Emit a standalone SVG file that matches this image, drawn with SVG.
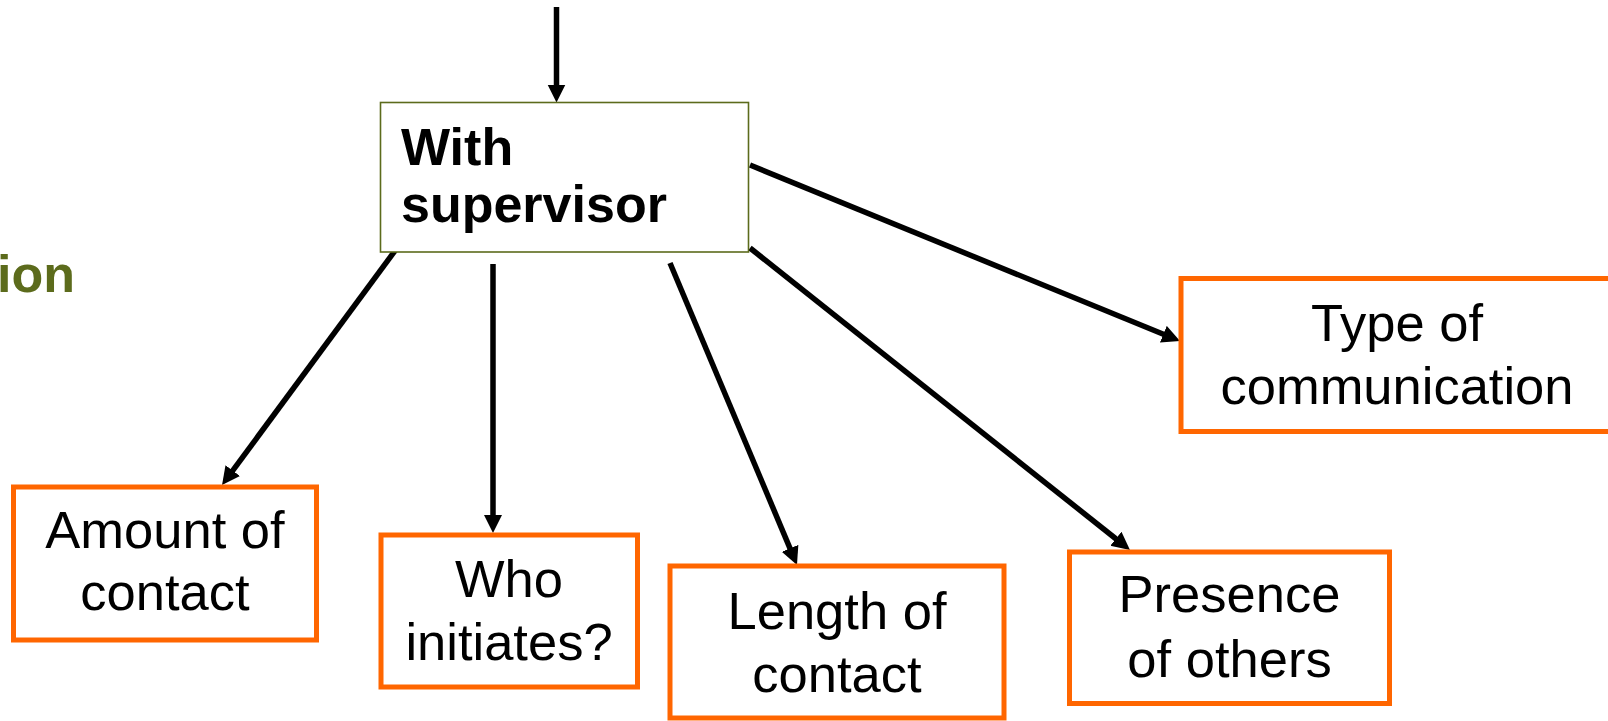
<svg xmlns="http://www.w3.org/2000/svg" width="1608" height="721" viewBox="0 0 1608 721">
  <style>
    .leaf { fill: #ffffff; stroke: #ff6600; stroke-width: 5; }
    .hub { fill: #ffffff; stroke: #5c6b1c; stroke-width: 1.6; }
    .label { font-family: "Liberation Sans", Arial, sans-serif; font-size: 52.5px; fill: #000000; text-anchor: middle; }
    .hub-label { font-family: "Liberation Sans", Arial, sans-serif; font-size: 52px; font-weight: bold; fill: #000000; }
    .side { font-family: "Liberation Sans", Arial, sans-serif; font-size: 52px; font-weight: bold; fill: #5c6b1c; text-anchor: end; }
    .link { stroke: #000000; stroke-width: 5.5; fill: none; marker-end: url(#arrow); }
  </style>
  <defs>
    <marker id="arrow" markerUnits="userSpaceOnUse" markerWidth="20" markerHeight="20" refX="10" refY="9" orient="auto">
      <path d="M0,0 L18,9 L0,18 z" fill="#000000"/>
    </marker>
  </defs>
  <rect width="1608" height="721" fill="#ffffff"/>

  <text class="side" x="75" y="292">ion</text>

  <g id="connectors">
    <line class="link" x1="556.5" y1="7" x2="556.5" y2="94.5"/>
    <line class="link" x1="397" y1="248" x2="226.8" y2="478.6"/>
    <line class="link" x1="493" y1="264" x2="493" y2="525"/>
    <line class="link" x1="670" y1="263" x2="793.9" y2="557.6"/>
    <line class="link" x1="750" y1="248" x2="1123.7" y2="545"/>
    <line class="link" x1="750" y1="165" x2="1172.6" y2="338"/>
  </g>

  <g id="with-supervisor">
    <rect class="hub" x="380.5" y="102.5" width="368" height="149.5"/>
    <text class="hub-label" x="401" y="165">With</text>
    <text class="hub-label" x="401" y="222">supervisor</text>
  </g>

  <g id="amount-of-contact">
    <rect class="leaf" x="13.5" y="487" width="303" height="153"/>
    <text class="label" x="165" y="548">Amount of</text>
    <text class="label" x="165" y="610">contact</text>
  </g>

  <g id="who-initiates">
    <rect class="leaf" x="381" y="535" width="256.5" height="152"/>
    <text class="label" x="509" y="597">Who</text>
    <text class="label" x="509" y="660">initiates?</text>
  </g>

  <g id="length-of-contact">
    <rect class="leaf" x="670" y="566" width="334" height="152"/>
    <text class="label" x="837" y="629">Length of</text>
    <text class="label" x="837" y="692">contact</text>
  </g>

  <g id="presence-of-others">
    <rect class="leaf" x="1069.5" y="552" width="320" height="151.5"/>
    <text class="label" x="1229.5" y="612">Presence</text>
    <text class="label" x="1229.5" y="677">of others</text>
  </g>

  <g id="type-of-communication">
    <rect class="leaf" x="1181" y="278.5" width="432" height="153"/>
    <text class="label" x="1397" y="341">Type of</text>
    <text class="label" x="1397" y="404">communication</text>
  </g>
</svg>
